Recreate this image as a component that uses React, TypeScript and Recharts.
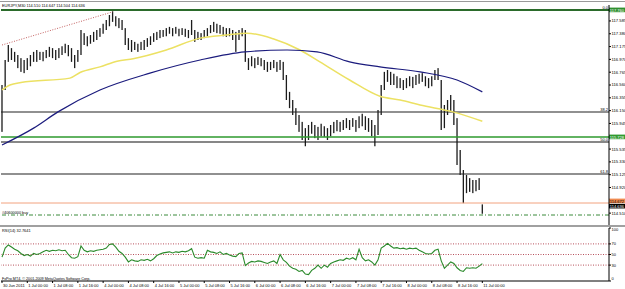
import React from 'react';
import { ComposedChart, Bar, Line, XAxis, YAxis, ReferenceLine } from 'recharts';

const FONT = '"Liberation Sans", Arial, sans-serif';

// hourly high / low of EURJPY (each entry = 2 M30 bars)
const highs = [
  116.56, 116.96, 117.2, 117.15, 117.09, 117.04, 116.99, 116.96, 116.99, 117.04,
  117.09, 117.12, 117.09, 117.09, 117.12, 117.17, 117.15, 117.12, 117.15, 117.18,
  117.22, 117.2, 117.15, 117.04, 117.12, 117.44, 117.39, 117.34, 117.36, 117.41,
  117.44, 117.47, 117.54, 117.6, 117.68, 117.74, 117.66, 117.63, 117.6, 117.47,
  117.31, 117.28, 117.25, 117.22, 117.25, 117.28, 117.31, 117.34, 117.39, 117.41,
  117.44, 117.44, 117.47, 117.49, 117.47, 117.49, 117.46, 117.47, 117.46, 117.44,
  117.6, 117.44, 117.41, 117.39, 117.44, 117.47, 117.52, 117.57, 117.54, 117.52,
  117.49, 117.47, 117.47, 117.44, 117.41, 117.44, 117.47, 117.44, 116.99, 117.02,
  116.99, 117.01, 116.99, 116.96, 116.93, 116.93, 116.96, 116.93, 116.96, 116.93,
  116.72, 116.45, 116.32, 116.19, 116.08, 115.97, 115.87, 115.92, 115.97, 115.92,
  115.89, 115.94, 115.9, 115.87, 115.92, 115.97, 116.0, 115.97, 116.0, 116.03,
  116.0, 116.03, 116.0, 116.06, 116.1, 116.06, 116.03, 116.0, 115.92, 116.16,
  116.56, 116.77, 116.8, 116.77, 116.74, 116.7, 116.67, 116.64, 116.67, 116.7,
  116.69, 116.72, 116.74, 116.75, 116.7, 116.67, 116.7, 116.8, 116.83, 116.64,
  116.24, 116.32, 116.4, 116.32, 116.03, 115.52, 115.2, 115.12, 115.07, 115.04,
  115.04, 115.07, 114.65,
];
const lows = [
  115.81, 116.48, 116.93, 116.96, 116.93, 116.83, 116.77, 116.75, 116.8, 116.86,
  116.93, 116.93, 116.96, 116.94, 116.99, 117.01, 116.99, 116.96, 116.99, 117.04,
  117.07, 117.02, 116.93, 116.83, 116.93, 117.04, 117.2, 117.18, 117.22, 117.25,
  117.28, 117.33, 117.38, 117.44, 117.5, 117.57, 117.5, 117.47, 117.44, 117.2,
  117.12, 117.09, 117.12, 117.09, 117.12, 117.12, 117.17, 117.2, 117.25, 117.28,
  117.31, 117.33, 117.34, 117.38, 117.34, 117.38, 117.34, 117.36, 117.33, 117.31,
  117.36, 117.25, 117.28, 117.28, 117.31, 117.34, 117.39, 117.41, 117.39, 117.38,
  117.34, 117.33, 117.34, 117.28, 117.09, 117.28, 117.34, 116.93, 116.8, 116.86,
  116.83, 116.88, 116.86, 116.8, 116.77, 116.8, 116.83, 116.77, 116.8, 116.64,
  116.32, 116.19, 116.08, 115.92, 115.81, 115.68, 115.58, 115.68, 115.78, 115.71,
  115.68, 115.74, 115.73, 115.68, 115.74, 115.79, 115.82, 115.81, 115.84, 115.87,
  115.84, 115.89, 115.81, 115.87, 115.9, 115.84, 115.81, 115.74, 115.58, 115.76,
  116.08, 116.48, 116.61, 116.56, 116.56, 116.51, 116.51, 116.48, 116.51, 116.54,
  116.51, 116.56, 116.58, 116.61, 116.54, 116.51, 116.54, 116.64, 116.64, 115.84,
  115.87, 116.08, 116.13, 115.92, 115.28, 115.12, 114.67, 114.83, 114.85, 114.83,
  114.86, 114.88, 114.5,
];
const rsiValues = [
  45, 62, 68, 64, 60, 57, 52, 48, 50, 47,
  52, 50, 52, 55, 58, 56, 58, 57, 59, 57,
  58, 50, 44, 43, 46, 66, 58, 55, 57, 56,
  58, 59, 60, 62, 69, 70, 64, 56, 52, 45,
  36, 40, 38, 37, 40, 39, 41, 38, 42, 48,
  51, 53, 54, 55, 53, 55, 54, 56, 55, 57,
  61, 45, 43, 44, 43, 58, 55, 54, 52, 55,
  50, 52, 49, 47, 46, 52, 53, 29, 34, 37,
  36, 38, 37, 35, 33, 36, 38, 33, 50, 40,
  35, 28, 24, 22, 18, 20, 13, 12, 20, 24,
  30, 24, 30, 26, 33, 36, 38, 40, 39, 43,
  41, 44, 40, 60, 44, 38, 40, 36, 30, 40,
  62, 66, 71, 66, 62, 63, 61, 62, 60, 62,
  61, 62, 58, 55, 52, 51, 52, 58, 60, 38,
  24, 30, 36, 33, 25, 20, 18, 25, 24, 25,
  24, 28, 32.76,
];

const fastMaAt = [0, 2.5, 6, 21.5, 24.7, 31, 36.4, 41.5, 52, 62.7, 71, 77.5, 85.8, 94.3, 100.6, 110, 119.6, 126, 132.3, 142.7, 152];
const fastMaValues = [116.48, 116.56, 116.6, 116.67, 116.76, 116.85, 116.94, 116.98, 117.12, 117.31, 117.36, 117.39, 117.3, 117.12, 116.93, 116.64, 116.38, 116.32, 116.24, 116.13, 115.98];
const slowMaAt = [0, 10, 17.7, 31, 46.8, 62.7, 76.9, 90.2, 99.7, 110, 119.6, 132.3, 144, 152];
const slowMaValues = [115.6, 115.87, 116.13, 116.48, 116.75, 116.96, 117.09, 117.12, 117.09, 116.93, 116.85, 116.77, 116.64, 116.45];
const fiboBaseAt = [0, 35];
const fiboBaseValues = [117.2, 117.73];

const timeLabels = [
  '30 Jun 2011', '1 Jul 00:00', '1 Jul 08:00', '1 Jul 16:00', '4 Jul 00:00', '4 Jul 08:00',
  '4 Jul 16:00', '5 Jul 00:00', '5 Jul 08:00', '5 Jul 16:00', '6 Jul 00:00', '6 Jul 08:00',
  '6 Jul 16:00', '7 Jul 00:00', '7 Jul 08:00', '7 Jul 16:00', '8 Jul 00:00', '8 Jul 08:00',
  '8 Jul 16:00', '11 Jul 00:00',
];
const timeTicks = timeLabels.map((_, i) => i * 8);
const priceTicks = [117.585, 117.38, 117.175, 116.97, 116.765, 116.56, 116.355, 116.15, 115.945, 115.535, 115.33, 115.125, 114.92, 114.51];
const rsiTicks = [0, 30, 50, 70, 100];

const levels = {
  fibo0: 117.76,
  fibo382: 116.128,
  greenLine: 115.728,
  fibo50: 115.648,
  fibo618: 115.136,
  orangeLine: 114.672,
  close: 114.636,
  buyOrder: 114.48,
};

const rows = highs.map((h, i) => ({ u: i, range: [lows[i], h], rsi: rsiValues[i] }));
const fastMa = fastMaAt.map((u, i) => ({ u, v: fastMaValues[i] }));
const slowMa = slowMaAt.map((u, i) => ({ u, v: slowMaValues[i] }));
const fiboBase = fiboBaseAt.map((u, i) => ({ u, v: fiboBaseValues[i] }));

const X_DOMAIN: [number, number] = [-0.32, 192.09];

function HiLoBar(props: any) {
  const { x, y, width, height } = props;
  if (x == null || y == null) return null;
  const cx = x + (width || 0) / 2;
  const top = Math.min(y, y + height);
  const h = Math.max(Math.abs(height), 1);
  return <rect x={cx - 0.65} y={top} width={1.3} height={h} fill="#1c1c1c" />;
}

function LineTag(props: any) {
  const { viewBox, tag, bg, fg, level, left, shift = 0 } = props;
  if (!viewBox) return null;
  const x = viewBox.x + viewBox.width;
  const y = viewBox.y;
  return (
    <g>
      {level ? (
        <text x={x - 1} y={y - 1} fontSize={4} textAnchor="end" fontFamily={FONT} fill="#000">{level}</text>
      ) : null}
      {left ? (
        <text x={viewBox.x + 1} y={y - 0.8} fontSize={3.8} fontFamily={FONT} fill="#000">{left}</text>
      ) : null}
      {tag ? (
        <g>
          <rect x={x} y={y - 2.4 + shift} width={16} height={4.6} fill={bg} />
          <text x={x + 0.8} y={y + 1.5 + shift} fontSize={4} fontFamily={FONT} fill={fg}>{tag}</text>
        </g>
      ) : null}
    </g>
  );
}

function TimeTick(props: any) {
  const { x, y, payload } = props;
  const idx = Math.round(payload.value / 8);
  return (
    <text x={x + 1} y={y + 3.6} fontSize={4} fontFamily={FONT} fill="#000">{timeLabels[idx]}</text>
  );
}

function RsiTick(props: any) {
  const { x, y, payload } = props;
  const dy = payload.value === 100 ? 2.6 : payload.value === 0 ? -0.6 : 1.4;
  return (
    <text x={x} y={y + dy} fontSize={4} fontFamily={FONT} fill="#000">{String(payload.value)}</text>
  );
}

export default function App() {
  return (
    <div style={{ position: 'absolute', left: 0, top: 0, width: 625, height: 289, background: '#fff', overflow: 'hidden' }}>
      <style>{`body{margin:0}`}</style>
      <div style={{ position: 'absolute', left: 0, top: 1, width: 625, height: 1, background: '#9a9a9a' }} />
      <div style={{ position: 'absolute', left: 0, top: 0 }}>
        <ComposedChart width={625} height={225} data={rows} margin={{ top: 5, right: 0, bottom: 0, left: 1 }}>
          <XAxis dataKey="u" type="number" domain={X_DOMAIN} allowDataOverflow hide />
          <YAxis
            orientation="right"
            type="number"
            domain={[114.32, 117.84]}
            allowDataOverflow
            ticks={priceTicks}
            interval={0}
            width={16}
            tickSize={2}
            tickMargin={0.5}
            axisLine={{ stroke: '#000' }}
            tickLine={{ stroke: '#000' }}
            tick={{ fontSize: 4.2, fill: '#000', fontFamily: FONT }}
            tickFormatter={(v: number) => v.toFixed(3)}
          />
          <ReferenceLine y={levels.fibo0} stroke="#2b6b2b" strokeWidth={2} label={<LineTag level="0.0" tag="117.760" bg="#2f8f2f" fg="#fff" />} />
          <ReferenceLine y={levels.fibo382} stroke="#222" strokeWidth={1.2} label={<LineTag level="38.2" />} />
          <ReferenceLine y={levels.greenLine} stroke="#2e9a2e" strokeWidth={1.5} label={<LineTag tag="115.728" bg="#2f9a2f" fg="#fff" />} />
          <ReferenceLine y={levels.fibo50} stroke="#111" strokeWidth={1.2} label={<LineTag level="50.0" />} />
          <ReferenceLine y={levels.fibo618} stroke="#222" strokeWidth={1.2} label={<LineTag level="61.8" />} />
          <ReferenceLine y={levels.orangeLine} stroke="#f2a27e" strokeWidth={1} label={<LineTag tag="114.672" bg="#ef8a50" fg="#000" shift={-2} />} />
          <ReferenceLine y={levels.buyOrder} stroke="#3a8a3a" strokeWidth={1} strokeDasharray="4 2 1 2" label={<LineTag left="#40600000 buy" />} />
          <ReferenceLine y={levels.close} stroke="#000" strokeOpacity={0} label={<LineTag tag="114.636" bg="#000" fg="#fff" shift={1} />} />
          <Bar dataKey="range" barSize={2} fill="#111" shape={<HiLoBar />} isAnimationActive={false} />
          <Line data={fiboBase} dataKey="v" type="linear" stroke="#c46060" strokeWidth={1} strokeDasharray="1 1.5" dot={false} isAnimationActive={false} />
          <Line data={fastMa} dataKey="v" type="monotone" stroke="#ece163" strokeWidth={1.5} dot={false} isAnimationActive={false} />
          <Line data={slowMa} dataKey="v" type="monotone" stroke="#1b1b7d" strokeWidth={1.2} dot={false} isAnimationActive={false} />
        </ComposedChart>
      </div>
      <div style={{ position: 'absolute', left: 0, top: 225, width: 625, height: 2, background: '#a0a0a0' }} />
      <div style={{ position: 'absolute', left: 0, top: 227 }}>
        <ComposedChart width={625} height={62} data={rows} margin={{ top: 1, right: 0, bottom: 0, left: 1 }}>
          <XAxis
            dataKey="u"
            type="number"
            domain={X_DOMAIN}
            allowDataOverflow
            ticks={timeTicks}
            interval={0}
            height={8}
            tickSize={2}
            tickMargin={0}
            axisLine={{ stroke: '#000' }}
            tickLine={{ stroke: '#000' }}
            tick={<TimeTick />}
          />
          <YAxis
            orientation="right"
            type="number"
            domain={[0, 100]}
            ticks={rsiTicks}
            interval={0}
            width={16}
            tickSize={2}
            tickMargin={0.5}
            axisLine={{ stroke: '#000' }}
            tickLine={{ stroke: '#000' }}
            tick={<RsiTick />}
          />
          <ReferenceLine y={70} stroke="#b8505c" strokeDasharray="1 1.5" />
          <ReferenceLine y={50} stroke="#b8505c" strokeDasharray="1 1.5" />
          <ReferenceLine y={30} stroke="#b8505c" strokeDasharray="1 1.5" />
          <Line dataKey="rsi" type="linear" stroke="#2b8a2b" strokeWidth={1.1} dot={false} isAnimationActive={false} />
        </ComposedChart>
      </div>
      <svg width={625} height={289} style={{ position: 'absolute', left: 0, top: 0, pointerEvents: 'none' }}>
        <text x={2} y={6.8} fontSize={3.9} fontFamily={FONT} fill="#000">EURJPY,M30  114.510 114.647 114.504 114.636</text>
        <text x={2} y={231.8} fontSize={3.9} fontFamily={FONT} fill="#000">RSI(14) 32.7641</text>
        <text x={2} y={280} fontSize={3.7} fontFamily={FONT} fill="#000">FxPro MT4, © 2001-2009 MetaQuotes Software Corp.</text>
      </svg>
    </div>
  );
}
